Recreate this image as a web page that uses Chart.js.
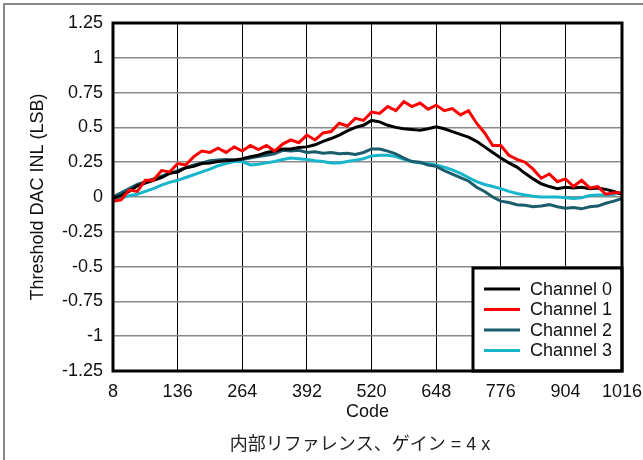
<!DOCTYPE html>
<html>
<head>
<meta charset="utf-8">
<script src="https://cdn.jsdelivr.net/npm/chart.js@4.4.1/dist/chart.umd.min.js"></script>
<style>
  html, body { margin: 0; padding: 0; background: #fff; }
  #wrap { width: 643px; height: 460px; }
</style>
</head>
<body>
<div id="wrap"><canvas id="inlChart" width="643" height="460"></canvas></div>
<script>
// DAC codes sampled every 16 codes
const codes = [8, 24, 40, 56, 72, 88, 104, 120, 136, 152, 168, 184, 200, 216, 232, 248,
    264, 280, 296, 312, 328, 344, 360, 376, 392, 408, 424, 440, 456, 472, 488, 504,
    520, 536, 552, 568, 584, 600, 616, 632, 648, 664, 680, 696, 712, 728, 744, 760,
    776, 792, 808, 824, 840, 856, 872, 888, 904, 920, 936, 952, 968, 984, 1000, 1016];

// INL (LSB) per channel
const ch0 = [-0.01, 0.01, 0.04, 0.08, 0.10, 0.12, 0.14, 0.17, 0.18, 0.21, 0.22, 0.24, 0.245, 0.255, 0.26, 0.265,
    0.275, 0.29, 0.30, 0.32, 0.33, 0.345, 0.345, 0.355, 0.36, 0.375, 0.40, 0.42, 0.445, 0.475, 0.50, 0.515,
    0.55, 0.54, 0.515, 0.50, 0.49, 0.485, 0.48, 0.49, 0.505, 0.49, 0.47, 0.45, 0.43, 0.40, 0.36, 0.32,
    0.28, 0.245, 0.215, 0.17, 0.13, 0.095, 0.075, 0.06, 0.07, 0.065, 0.07, 0.06, 0.065, 0.055, 0.04, 0.02];
const ch1 = [-0.03, -0.02, 0.05, 0.04, 0.12, 0.12, 0.19, 0.18, 0.24, 0.23, 0.29, 0.33, 0.32, 0.35, 0.32, 0.36,
    0.33, 0.37, 0.34, 0.37, 0.33, 0.38, 0.41, 0.39, 0.445, 0.41, 0.46, 0.47, 0.53, 0.51, 0.565, 0.55,
    0.61, 0.60, 0.65, 0.62, 0.685, 0.65, 0.675, 0.63, 0.66, 0.62, 0.635, 0.59, 0.62, 0.53, 0.46, 0.37,
    0.37, 0.30, 0.27, 0.25, 0.20, 0.135, 0.165, 0.11, 0.13, 0.075, 0.12, 0.065, 0.075, 0.02, 0.03, 0.03];
const ch2 = [0.0, 0.03, 0.06, 0.09, 0.11, 0.13, 0.15, 0.17, 0.19, 0.21, 0.23, 0.245, 0.26, 0.265, 0.27, 0.265,
    0.27, 0.28, 0.29, 0.30, 0.31, 0.335, 0.33, 0.335, 0.32, 0.325, 0.315, 0.32, 0.31, 0.315, 0.305, 0.32,
    0.345, 0.345, 0.33, 0.31, 0.28, 0.255, 0.25, 0.23, 0.22, 0.19, 0.165, 0.14, 0.115, 0.07, 0.04, 0.0,
    -0.03, -0.04, -0.055, -0.06, -0.07, -0.065, -0.055, -0.07, -0.08, -0.075, -0.085, -0.07, -0.065, -0.045, -0.03, -0.01];
const ch3 = [-0.02, -0.01, 0.01, 0.02, 0.04, 0.06, 0.085, 0.105, 0.12, 0.14, 0.16, 0.18, 0.20, 0.225, 0.24, 0.255,
    0.255, 0.23, 0.235, 0.245, 0.255, 0.27, 0.28, 0.275, 0.27, 0.26, 0.255, 0.245, 0.245, 0.255, 0.265, 0.275,
    0.295, 0.30, 0.30, 0.29, 0.27, 0.255, 0.245, 0.24, 0.23, 0.215, 0.195, 0.17, 0.14, 0.11, 0.09, 0.075,
    0.06, 0.04, 0.025, 0.015, 0.005, 0.0, 0.0, 0.0, -0.005, -0.01, -0.005, 0.01, 0.015, 0.015, 0.02, 0.03];

const seriesNames = ['Channel 0', 'Channel 1', 'Channel 2', 'Channel 3'];
const seriesColors = ['#000000', '#ff0000', '#1c5d6d', '#18b6cb'];

// axis ticks
const xTicks = [8, 136, 264, 392, 520, 648, 776, 904, 1016];
const yTicks = [-1.25, -1, -0.75, -0.5, -0.25, 0, 0.25, 0.5, 0.75, 1, 1.25];

const subtitle = '内部リファレンス、ゲイン = 4 x';
const FONT = '"Liberation Sans", Arial, "Noto Sans CJK JP", sans-serif';

function toPoints(values) {
    return codes.map((c, i) => ({ x: c, y: values[i] }));
}

// frame, plot border, legend box and caption drawn on top of the chart
const decorations = {
    id: 'decorations',
    afterDraw(chart) {
        const ctx = chart.ctx;
        const a = chart.chartArea;
        ctx.save();

        // outer gray frame (top and left)
        ctx.strokeStyle = '#8a8a8a';
        ctx.lineWidth = 2;
        ctx.beginPath();
        ctx.moveTo(4, 470);
        ctx.lineTo(4, 4);
        ctx.lineTo(660, 4);
        ctx.stroke();

        // legend in the lower right corner of the plot
        const bx = 473, by = 268, bw = a.right - 473, bh = a.bottom - 268;
        ctx.fillStyle = '#fff';
        ctx.fillRect(bx, by, bw, bh);
        ctx.strokeStyle = '#000';
        ctx.lineWidth = 3;
        ctx.strokeRect(bx, by, bw, bh);
        ctx.font = '18px ' + FONT;
        ctx.textBaseline = 'middle';
        ctx.textAlign = 'left';
        seriesNames.forEach((name, i) => {
            const y = 289 + i * 20.5;
            ctx.strokeStyle = seriesColors[i];
            ctx.lineWidth = 3;
            ctx.beginPath();
            ctx.moveTo(484, y);
            ctx.lineTo(520, y);
            ctx.stroke();
            ctx.fillStyle = '#111';
            ctx.fillText(name, 530, y + 1);
        });

        // thick plot border
        ctx.strokeStyle = '#000';
        ctx.lineWidth = 3;
        ctx.strokeRect(a.left, a.top, a.right - a.left, a.bottom - a.top);

        // caption under the axis
        ctx.fillStyle = '#222';
        ctx.font = '18px ' + FONT;
        ctx.textAlign = 'center';
        ctx.fillText(subtitle, 360, 445);
        ctx.restore();
    }
};

new Chart(document.getElementById('inlChart'), {
    type: 'line',
    data: {
        datasets: [ch0, ch1, ch2, ch3].map((vals, i) => ({
            label: seriesNames[i],
            data: toPoints(vals),
            borderColor: seriesColors[i],
            backgroundColor: seriesColors[i],
            borderWidth: 3,
            pointRadius: 0,
            tension: 0,
            fill: false,
            order: [1, 0, 2, 3][i]
        }))
    },
    options: {
        responsive: false,
        animation: false,
        devicePixelRatio: 1,
        layout: { padding: { top: 23, right: 21, bottom: 37, left: 0 } },
        plugins: {
            legend: { display: false },
            tooltip: { enabled: false }
        },
        scales: {
            x: {
                type: 'linear',
                min: 8,
                max: 1016,
                afterBuildTicks: scale => { scale.ticks = xTicks.map(v => ({ value: v })); },
                afterFit: scale => {
                    scale.height = 52;
                    // the edge labels may overhang the layout padding
                    scale.paddingLeft = 0;
                    scale.paddingRight = 0;
                },
                ticks: {
                    color: '#111',
                    font: { family: FONT, size: 18 },
                    padding: 10,
                    maxRotation: 0,
                    autoSkip: false,
                    callback: v => String(v)
                },
                grid: { color: '#000', lineWidth: 1, drawTicks: false },
                border: { display: false },
                title: {
                    display: true,
                    text: 'Code',
                    color: '#111',
                    font: { family: FONT, size: 18 },
                    padding: { top: 0, bottom: 0 }
                }
            },
            y: {
                min: -1.25,
                max: 1.25,
                afterBuildTicks: scale => { scale.ticks = yTicks.map(v => ({ value: v })); },
                afterFit: scale => { scale.width = 113; },
                ticks: {
                    color: '#111',
                    font: { family: FONT, size: 18 },
                    padding: 10,
                    callback: v => String(Number(v.toFixed(2)))
                },
                grid: { color: '#8a8a8a', lineWidth: 1.5, drawTicks: false },
                border: { display: false },
                title: {
                    display: true,
                    text: 'Threshold DAC INL (LSB)',
                    color: '#111',
                    font: { family: FONT, size: 18 },
                    padding: { top: 27, bottom: 0 }
                }
            }
        }
    },
    plugins: [decorations]
});
</script>
</body>
</html>
